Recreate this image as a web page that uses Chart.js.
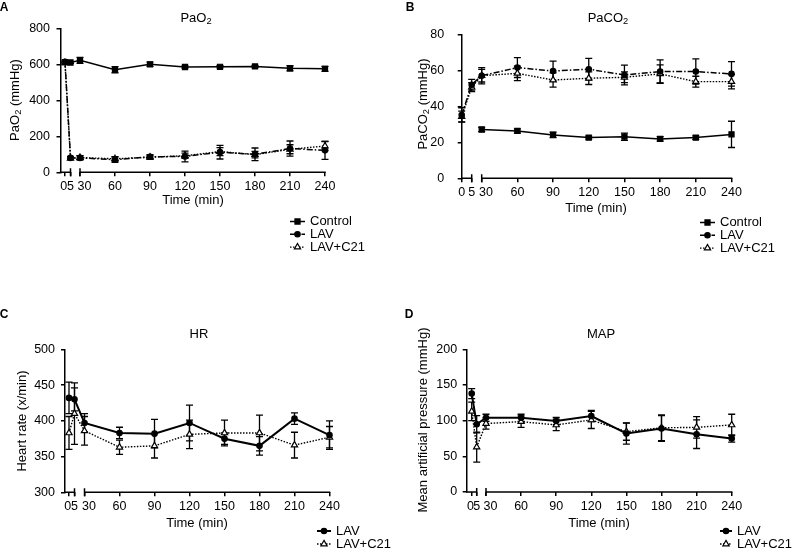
<!DOCTYPE html>
<html><head><meta charset="utf-8">
<script src="https://cdn.jsdelivr.net/npm/chart.js@4/dist/chart.umd.min.js"></script>
<style>
html,body{margin:0;padding:0;background:#fff;}
#wrap{position:relative;width:792px;height:552px;background:#fff;}
canvas{position:absolute;left:0;top:0;}
</style></head><body>
<div id="wrap">
<canvas id="cA" width="792" height="552"></canvas>
<canvas id="cB" width="792" height="552"></canvas>
<canvas id="cC" width="792" height="552"></canvas>
<canvas id="cD" width="792" height="552"></canvas>
</div>
<script>
// ---------- DATA ----------
const times = [0, 5, 30, 60, 90, 120, 150, 180, 210, 240];
const timeTickLabels = ['0', '5', '30', '60', '90', '120', '150', '180', '210', '240'];

// Panel A: PaO2 (mmHg)
const paO2Control   = [612, 610, 622, 570, 600, 585, 586, 588, 578, 575];
const paO2ControlSD = [6, 5, 17, 17, 12, 6, 6, 6, 14, 14];
const paO2LAV       = [614, 80, 80, 70, 86, 88, 112, 100, 132, 122];
const paO2LAVSD     = [5, 8, 12, 15, 12, 30, 38, 35, 42, 50];
const paO2C21       = [608, 78, 82, 75, 84, 92, 115, 98, 128, 146];
const paO2C21SD     = [5, 6, 10, 12, 10, 14, 22, 18, 25, 25];

// Panel B: PaCO2 (mmHg)
const paCO2Control   = [null, null, 27.1, 26.3, 24.1, 22.6, 23.1, 21.9, 22.6, 24.4];
const paCO2ControlSD = [0, 0, 1.2, 1.2, 1.5, 0.8, 2, 1.2, 1, 7.3];
const paCO2LAV       = [35.2, 52, 57, 61.5, 59.6, 60.6, 57.4, 59.3, 59.3, 58];
const paCO2LAVSD     = [4, 3, 4.5, 5.5, 5.5, 6, 5.5, 6.5, 7, 6.8];
const paCO2C21       = [34.3, 50.6, 57, 58.3, 54.6, 55.6, 56.1, 58, 53.7, 53.7];
const paCO2C21SD     = [3, 2.5, 3.5, 4, 4, 3.5, 3, 5, 3, 4];

// Panel C: Heart rate (x/min)
const hrLAV   = [432, 430, 397, 383, 382, 397, 375, 365, 403, 380];
const hrLAVSD = [22, 16, 13, 8, 20, 25, 8, 13, 8, 20];
const hrC21   = [383, 410, 386, 363, 365, 381, 383, 383, 366, 377];
const hrC21SD = [23, 43, 20, 10, 17, 20, 18, 25, 18, 15];

// Panel D: Mean arterial pressure (mmHg)
const mapLAV   = [138, 95, 104, 104, 99.5, 106.5, 82, 89, 81, 75];
const mapLAVSD = [7, 12, 5, 5, 5, 8, 15, 18, 20, 5];
const mapC21   = [113, 63, 96, 98.6, 94, 101, 84.5, 90, 90.6, 94];
const mapC21SD = [13, 21, 8, 8, 8, 12, 12, 18, 15, 15];

// ---------- LAYOUT / STYLE ----------
const FONT = '"Liberation Sans", Arial, Helvetica, sans-serif';
const layouts = {
  A: {axisX: 60.5, x0: 65, x5: 70.5, x30: 80, x240: 325, top: 28.3, bottom: 172.3, yPad: 6.5, shift0: true,
      letter: [4, 8], title: [196, 18], yTitle: [15, 100], xTitle: [193, 200], legend: [290, 310, 221.5, 12.8]},
  B: {axisX: 461.7, x0: 461.7, x5: 471.7, x30: 481.7, x240: 731.5, top: 34.3, bottom: 178.3, yPad: 13.5, shift0: false,
      letter: [410, 8], title: [608, 18], yTitle: [423, 104], xTitle: [596, 208], legend: [700, 720, 222.5, 12.8]},
  C: {axisX: 65, x0: 69, x5: 74.5, x30: 84.5, x240: 329.5, top: 349.3, bottom: 492.3, yPad: 6, shift0: true,
      letter: [4, 315], title: [199, 334], yTitle: [22, 421], xTitle: [197, 523], legend: [317, 336, 531, 13]},
  D: {axisX: 466.7, x0: 471.7, x5: 476.7, x30: 486, x240: 731.7, top: 349.3, bottom: 492, yPad: 5.5, shift0: true,
      letter: [409, 315], title: [601, 334], yTitle: [423, 420], xTitle: [599, 523], legend: [720, 737, 531, 13]}
};

const styles = {
  control: {borderWidth: 1.5, borderDash: [], pointStyle: 'rect', pointRadius: 3.6, pointBackgroundColor: '#000'},
  lavDash: {borderWidth: 1.5, borderDash: [6, 2, 1.5, 2], pointStyle: 'circle', pointRadius: 2.7, pointBackgroundColor: '#000'},
  lavSolid: {borderWidth: 2, borderDash: [], pointStyle: 'circle', pointRadius: 2.7, pointBackgroundColor: '#000'},
  c21: {borderWidth: 1.4, borderDash: [1.5, 1.5], pointStyle: 'triangle', pointRadius: 3.6, pointBackgroundColor: '#fff'}
};

function breakAxis(L) {
  const s = (L.x240 - L.x30) / 210;
  const gap = (L.x30 - L.x5) / s;
  const r = (L.x5 - L.x0) / (5 * s);
  const pre = (L.x0 - L.axisX) / s;
  const u = t => t >= 30 ? t : 30 - gap - (5 - t) * r;
  return {u, min: u(0) - pre, max: 240};
}

// tick label text, with spacing so labels on the broken axis sit as in the figure
function tickText(L, i) {
  const lab = timeTickLabels[i];
  if (i === 0 && L.shift0) return lab + '\u2009';
  if (i === 2) return '\u2002\u2009' + lab;
  return lab;
}

function parts(str) {
  const out = [];
  const re = /_(\d)/g;
  let last = 0, m;
  while ((m = re.exec(str))) {
    if (m.index > last) out.push({t: str.slice(last, m.index)});
    out.push({t: m[1], sub: true});
    last = m.index + 2;
  }
  if (last < str.length) out.push({t: str.slice(last)});
  return out;
}

function richText(ctx, str, x, y, size, rot, bold) {
  const ps = parts(str);
  ctx.save();
  ctx.translate(x, y);
  if (rot) ctx.rotate(rot);
  const f = s => (bold ? 'bold ' : '') + s + 'px ' + FONT;
  let w = 0;
  ps.forEach(p => { ctx.font = f(p.sub ? size * 0.72 : size); p.w = ctx.measureText(p.t).width; w += p.w; });
  let cx = -w / 2;
  ctx.textBaseline = 'middle';
  ctx.textAlign = 'left';
  ctx.fillStyle = '#000';
  ps.forEach(p => {
    ctx.font = f(p.sub ? size * 0.72 : size);
    ctx.fillText(p.t, cx, p.sub ? size * 0.3 : 0);
    cx += p.w;
  });
  ctx.restore();
}

function makePanel(canvasId, key, title, yTitle, yCfg, series) {
  const L = layouts[key];
  const T = breakAxis(L);
  const yW = 45, xH = 30;
  const datasets = series.map(s => {
    const st = styles[s.style];
    return {
      label: s.label,
      data: times.map((t, i) => ({x: T.u(t), y: s.values[i]})),
      sd: s.sd,
      borderColor: '#000',
      pointBorderColor: '#000',
      pointBorderWidth: 1.2,
      borderWidth: st.borderWidth,
      borderDash: st.borderDash,
      pointStyle: st.pointStyle,
      pointRadius: st.pointRadius,
      pointBackgroundColor: st.pointBackgroundColor,
      tension: 0,
      fill: false,
      clip: false,
      spanGaps: false
    };
  });

  const deco = {
    id: 'deco' + key,
    beforeDatasetsDraw(chart) {
      const ctx = chart.ctx, ys = chart.scales.y;
      ctx.save();
      ctx.strokeStyle = '#000';
      ctx.lineWidth = 1.3;
      ctx.setLineDash([]);
      chart.data.datasets.forEach((ds, di) => {
        const meta = chart.getDatasetMeta(di);
        ds.data.forEach((p, j) => {
          if (p.y == null || !ds.sd[j]) return;
          const x = meta.data[j].x;
          const y1 = ys.getPixelForValue(p.y + ds.sd[j]);
          const y2 = ys.getPixelForValue(p.y - ds.sd[j]);
          ctx.beginPath();
          ctx.moveTo(x, y1); ctx.lineTo(x, y2);
          ctx.moveTo(x - 3.5, y1); ctx.lineTo(x + 3.5, y1);
          ctx.moveTo(x - 3.5, y2); ctx.lineTo(x + 3.5, y2);
          ctx.stroke();
        });
      });
      ctx.restore();
    },
    afterDraw(chart) {
      const ctx = chart.ctx, xs = chart.scales.x, ca = chart.chartArea;
      ctx.save();
      ctx.strokeStyle = '#000';
      ctx.lineWidth = 1.5;
      ctx.setLineDash([]);
      const yb = ca.bottom;
      const p5 = xs.getPixelForValue(T.u(5)), p30 = xs.getPixelForValue(T.u(30)), p240 = xs.getPixelForValue(T.u(240));
      ctx.beginPath();
      ctx.moveTo(ca.left - 0.75, yb); ctx.lineTo(p5, yb);
      ctx.moveTo(p30, yb); ctx.lineTo(p240 + 0.75, yb);
      ctx.moveTo(p5, yb - 4); ctx.lineTo(p5, yb + 4);
      ctx.moveTo(p30, yb - 4); ctx.lineTo(p30, yb + 4);
      ctx.stroke();
      richText(ctx, key, L.letter[0], L.letter[1], 12, 0, true);
      richText(ctx, title, L.title[0], L.title[1], 13);
      richText(ctx, yTitle, L.yTitle[0], L.yTitle[1], 13, -Math.PI / 2);
      richText(ctx, 'Time (min)', L.xTitle[0], L.xTitle[1], 13);
      const [lx1, tx, ly0, dy] = L.legend;
      const lx2 = tx - 5;
      chart.data.datasets.forEach((ds, i) => {
        const y = ly0 + i * dy;
        ctx.strokeStyle = '#000';
        ctx.lineWidth = ds.borderWidth;
        ctx.setLineDash(ds.borderDash);
        ctx.beginPath(); ctx.moveTo(lx1, y); ctx.lineTo(lx2, y); ctx.stroke();
        ctx.setLineDash([]);
        ctx.lineWidth = 1.2;
        ctx.fillStyle = ds.pointBackgroundColor;
        Chart.helpers.drawPoint(ctx, {pointStyle: ds.pointStyle, radius: ds.pointRadius, rotation: 0, borderWidth: 1.2}, (lx1 + lx2) / 2, y);
        ctx.fillStyle = '#000';
        ctx.font = '13px ' + FONT;
        ctx.textAlign = 'left';
        ctx.textBaseline = 'middle';
        ctx.fillText(ds.label, tx, y);
      });
      ctx.restore();
    }
  };

  return new Chart(document.getElementById(canvasId), {
    type: 'line',
    data: {datasets},
    options: {
      responsive: false,
      animation: false,
      devicePixelRatio: 1,
      layout: {padding: {left: L.axisX - yW, top: L.top, right: 792 - L.x240, bottom: 552 - L.bottom - xH}},
      plugins: {legend: {display: false}, title: {display: false}, tooltip: {enabled: false}},
      scales: {
        x: {
          type: 'linear',
          min: T.min, max: T.max,
          afterFit(s) { s.height = xH; },
          afterBuildTicks(s) { s.ticks = times.map(t => ({value: T.u(t)})); },
          border: {display: false},
          grid: {display: true, drawOnChartArea: false, drawTicks: true, tickLength: 4, color: '#000', lineWidth: 1.5},
          ticks: {
            autoSkip: false, maxRotation: 0, minRotation: 0, padding: 3,
            color: '#000', font: {family: FONT, size: 12.5},
            callback: (v, i) => tickText(L, i)
          }
        },
        y: {
          type: 'linear',
          min: yCfg.min, max: yCfg.max,
          afterFit(s) { s.width = yW; },
          border: {display: true, color: '#000', width: 1.5},
          grid: {display: true, drawOnChartArea: false, drawTicks: true, tickLength: 4, color: '#000', lineWidth: 1.5},
          ticks: {stepSize: yCfg.step, padding: L.yPad, color: '#000', font: {family: FONT, size: 12.5}}
        }
      }
    },
    plugins: [deco]
  });
}

makePanel('cA', 'A', 'PaO_2', 'PaO_2 (mmHg)', {min: 0, max: 800, step: 200}, [
  {label: 'Control', values: paO2Control, sd: paO2ControlSD, style: 'control'},
  {label: 'LAV', values: paO2LAV, sd: paO2LAVSD, style: 'lavDash'},
  {label: 'LAV+C21', values: paO2C21, sd: paO2C21SD, style: 'c21'}
]);
makePanel('cB', 'B', 'PaCO_2', 'PaCO_2 (mmHg)', {min: 0, max: 80, step: 20}, [
  {label: 'Control', values: paCO2Control, sd: paCO2ControlSD, style: 'control'},
  {label: 'LAV', values: paCO2LAV, sd: paCO2LAVSD, style: 'lavDash'},
  {label: 'LAV+C21', values: paCO2C21, sd: paCO2C21SD, style: 'c21'}
]);
makePanel('cC', 'C', 'HR', 'Heart rate (x/min)', {min: 300, max: 500, step: 50}, [
  {label: 'LAV', values: hrLAV, sd: hrLAVSD, style: 'lavSolid'},
  {label: 'LAV+C21', values: hrC21, sd: hrC21SD, style: 'c21'}
]);
makePanel('cD', 'D', 'MAP', 'Mean artificial pressure (mmHg)', {min: 0, max: 200, step: 50}, [
  {label: 'LAV', values: mapLAV, sd: mapLAVSD, style: 'lavSolid'},
  {label: 'LAV+C21', values: mapC21, sd: mapC21SD, style: 'c21'}
]);
</script>
</body></html>
